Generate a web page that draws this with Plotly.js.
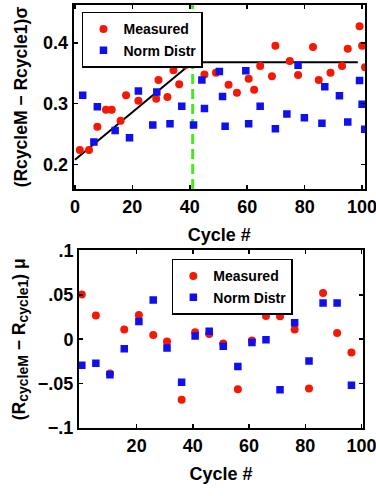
<!DOCTYPE html>
<html>
<head>
<meta charset="utf-8">
<script src="https://cdn.plot.ly/plotly-3.0.1.min.js"></script>
<style>
  html, body { margin: 0; padding: 0; background: #fff; }
  #chart { width: 376px; height: 496px; }
</style>
</head>
<body>
<div id="chart"></div>
<script>
// ---- Top panel: sigma vs cycle ----
const topMeasX = [1.7, 4.9, 7.8, 10.8, 12.8, 15.9, 17.8, 22.1, 28.3, 29.1, 32.2, 34.3, 36.3, 38.4, 41.3, 43.1, 45.1, 49.1, 53.5, 56.4, 60.5, 62.4, 64.5, 68.6, 69.8, 74.8, 77.7, 82.9, 84.9, 89.0, 93.0, 95.0, 99.1, 100.0, 101.0];
const topMeasY = [0.224, 0.224, 0.262, 0.290, 0.290, 0.272, 0.314, 0.305, 0.308, 0.339, 0.311, 0.355, 0.332, 0.363, 0.370, 0.382, 0.348, 0.351, 0.331, 0.318, 0.341, 0.323, 0.362, 0.345, 0.395, 0.370, 0.347, 0.393, 0.339, 0.351, 0.362, 0.390, 0.427, 0.395, 0.360];
const topNormX = [2.7, 7.8, 6.6, 14.0, 19.0, 22.1, 27.1, 28.5, 33.1, 37.2, 41.3, 44.2, 45.1, 50.3, 51.4, 52.3, 59.5, 60.5, 64.5, 69.8, 73.8, 77.7, 79.9, 86.0, 87.0, 92.1, 95.0, 99.1, 100.0, 100.9];
const topNormY = [0.314, 0.295, 0.237, 0.256, 0.244, 0.321, 0.265, 0.319, 0.267, 0.296, 0.265, 0.339, 0.292, 0.353, 0.312, 0.263, 0.354, 0.267, 0.296, 0.259, 0.283, 0.363, 0.277, 0.268, 0.328, 0.313, 0.270, 0.338, 0.299, 0.258];
const fitRiseX = [0, 41];
const fitRiseY = [0.208, 0.368];
const fitFlatX = [42, 98.5];
const fitFlatY = [0.368, 0.368];
const breakX = [41, 41];
const breakY = [0.16, 0.462];
const topXTicks = [0, 20, 40, 60, 80, 100];
const topYTicks = [0.2, 0.3, 0.4];
const topYTickText = ["0.2", "0.3", "0.4"];

// ---- Bottom panel: mu vs cycle ----
const botX = [0.5, 5.5, 10.5, 15.6, 20.8, 25.9, 30.8, 36.0, 40.8, 45.8, 50.8, 56.0, 61.0, 66.0, 71.0, 76.2, 81.3, 86.3, 91.3, 96.4];
const botMeasY = [0.0504, 0.0267, -0.0385, 0.0111, 0.0274, 0.0048, -0.0026, -0.0681, 0.0078, 0.0059, -0.0048, -0.0563, -0.0015, 0.0263, 0.0259, 0.0111, -0.0556, 0.0522, 0.0070, -0.0148];
const botNormY = [-0.0293, -0.0270, -0.0400, -0.0107, 0.0200, 0.0441, -0.0100, -0.0485, 0.0037, 0.0089, -0.0078, -0.0307, -0.0037, -0.0007, -0.0570, 0.0185, -0.0244, 0.0407, 0.0407, -0.0519];
const botXTicks = [20, 40, 60, 80, 100];
const botYTicks = [-0.1, -0.05, 0, 0.05, 0.1];
const botYTickText = ["\u2212.1", "\u2212.05", "0", ".05", ".1"];

const RED = 'rgb(245,25,5)';
const BLUE = 'rgb(15,15,240)';
const GREEN = 'rgb(70,235,30)';
const FONT = 'Liberation Sans, Arial, sans-serif';

const traces = [
  {x: breakX, y: breakY, xaxis: 'x', yaxis: 'y', mode: 'lines', showlegend: false, hoverinfo: 'skip',
   line: {color: GREEN, width: 3, dash: '10px,5px'}},
  {x: fitRiseX, y: fitRiseY, xaxis: 'x', yaxis: 'y', mode: 'lines', showlegend: false, hoverinfo: 'skip',
   line: {color: 'black', width: 2}},
  {x: fitFlatX, y: fitFlatY, xaxis: 'x', yaxis: 'y', mode: 'lines', showlegend: false, hoverinfo: 'skip',
   line: {color: 'black', width: 2}},
  {x: topMeasX, y: topMeasY, xaxis: 'x', yaxis: 'y', mode: 'markers', name: 'Measured', legend: 'legend',
   marker: {symbol: 'circle', size: 8, color: RED}},
  {x: topNormX, y: topNormY, xaxis: 'x', yaxis: 'y', mode: 'markers', name: 'Norm Distr', legend: 'legend',
   marker: {symbol: 'square', size: 7.5, color: BLUE}},
  {x: botX, y: botMeasY, xaxis: 'x2', yaxis: 'y2', mode: 'markers', name: 'Measured', legend: 'legend2',
   marker: {symbol: 'circle', size: 8, color: RED}},
  {x: botX, y: botNormY, xaxis: 'x2', yaxis: 'y2', mode: 'markers', name: 'Norm Distr', legend: 'legend2',
   marker: {symbol: 'square', size: 7.5, color: BLUE}}
];

const axisCommon = {
  showgrid: false, zeroline: false, showline: true, linecolor: 'black', linewidth: 2,
  mirror: 'ticks', ticks: 'inside', ticklen: 4, tickwidth: 1.5, tickcolor: 'black',
  ticklabeloverflow: 'allow',
  tickfont: {family: FONT, size: 18, color: 'black', weight: 'bold'}
};
const titleFont = {family: FONT, size: 18, color: 'black', weight: 'bold'};
const yTitleFont = {family: FONT, size: 17.5, color: 'black', weight: 'bold'};
const legendCommon = {
  xanchor: 'left', yanchor: 'top', bgcolor: 'white', bordercolor: 'black', borderwidth: 1.5,
  font: {family: FONT, size: 14, color: 'black', weight: 'bold'}, itemwidth: 30, tracegroupgap: 0
};

const layout = {
  width: 376, height: 496,
  margin: {l: 0, r: 0, t: 0, b: 0},
  paper_bgcolor: 'white', plot_bgcolor: 'white',
  showlegend: true,
  xaxis: Object.assign({}, axisCommon, {
    domain: [0.1955, 0.9707], range: [-0.5, 101], anchor: 'y',
    tickvals: topXTicks,
    title: {text: 'Cycle #', font: titleFont, standoff: 13}
  }),
  yaxis: Object.assign({}, axisCommon, {
    domain: [0.6190, 0.9899], range: [0.16, 0.462], anchor: 'x',
    tickvals: topYTicks, ticktext: topYTickText,
    title: {text: '(RcycleM \u2212 Rcycle1)\u03c3', font: yTitleFont, standoff: 11}
  }),
  xaxis2: Object.assign({}, axisCommon, {
    domain: [0.2101, 0.9654], range: [-0.5, 100.5], anchor: 'y2',
    tickvals: botXTicks,
    title: {text: 'Cycle #', font: titleFont, standoff: 13}
  }),
  yaxis2: Object.assign({}, axisCommon, {
    domain: [0.1371, 0.4950], range: [-0.1, 0.1], anchor: 'x2',
    tickvals: botYTicks, ticktext: botYTickText,
    title: {text: '(R<sub><span style="font-size:14px">cycleM</span></sub> \u2212 R<sub><span style="font-size:14px">cycle1</span></sub>) \u03bc', font: yTitleFont, standoff: 8}
  }),
  legend: Object.assign({}, legendCommon, {x: 0.218, y: 0.976}),
  legend2: Object.assign({}, legendCommon, {x: 0.457, y: 0.478})
};

Plotly.newPlot('chart', traces, layout, {displayModeBar: false, staticPlot: true});
</script>
</body>
</html>
